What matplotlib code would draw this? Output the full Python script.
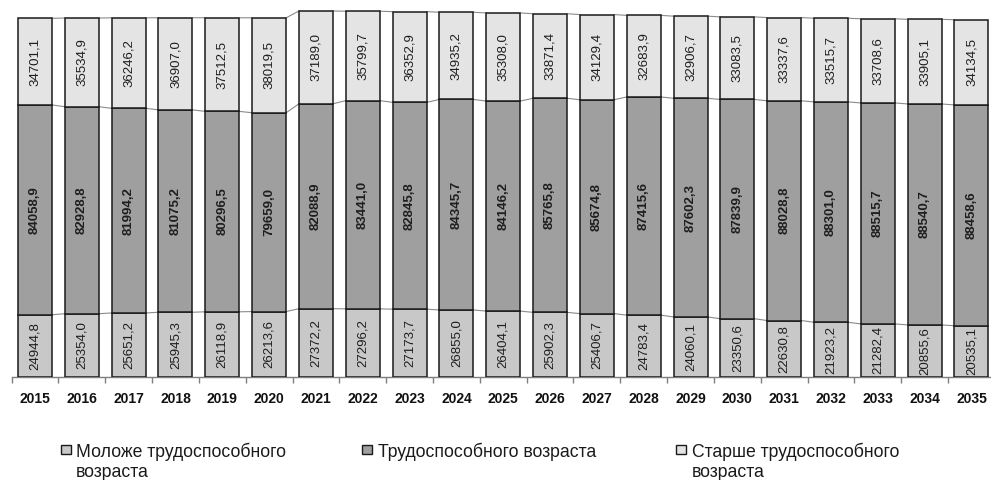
import numpy as np
import matplotlib
matplotlib.use("Agg")
import matplotlib.pyplot as plt
from matplotlib.patches import Rectangle

plt.rcParams['font.family'] = ['Liberation Sans', 'DejaVu Sans']

years = [str(y) for y in range(2015, 2036)]

younger = [24944.8, 25354.0, 25651.2, 25945.3, 26118.9, 26213.6, 27372.2,
           27296.2, 27173.7, 26855.0, 26404.1, 25902.3, 25406.7, 24783.4,
           24060.1, 23350.6, 22630.8, 21923.2, 21282.4, 20855.6, 20535.1]
working = [84058.9, 82928.8, 81994.2, 81075.2, 80296.5, 79659.0, 82088.9,
           83441.0, 82845.8, 84345.7, 84146.2, 85765.8, 85674.8, 87415.6,
           87602.3, 87839.9, 88028.8, 88301.0, 88515.7, 88540.7, 88458.6]
older = [34701.1, 35534.9, 36246.2, 36907.0, 37512.5, 38019.5, 37189.0,
         35799.7, 36352.9, 34935.2, 35308.0, 33871.4, 34129.4, 32683.9,
         32906.7, 33083.5, 33337.6, 33515.7, 33708.6, 33905.1, 34134.5]

series_names = ["Моложе трудоспособного\nвозраста",
                "Трудоспособного возраста",
                "Старше трудоспособного\nвозраста"]
colors = ["#c8c8c8", "#9f9f9f", "#e4e4e4"]

W, H = 991, 480
fig = plt.figure(figsize=(W / 100, H / 100), dpi=100)
fig.patch.set_facecolor("white")

ax_left, ax_right = 11.6, 994.9
ax_bottom, ax_top = 377, 2.6
ax = fig.add_axes([ax_left / W, (H - ax_bottom) / H,
                   (ax_right - ax_left) / W, (ax_bottom - ax_top) / H])

x = np.arange(len(years))
bw = 0.726
values = [np.array(younger), np.array(working), np.array(older)]
bottom = np.zeros(len(years))
for vals, col in zip(values, colors):
    ax.bar(x, vals, bw, bottom=bottom, color=col, edgecolor="#1a1a1a",
           linewidth=1.1, zorder=3)
    bottom = bottom + vals

# series lines joining the segment tops of neighbouring bars
level = np.zeros(len(years))
for vals in values:
    level = level + vals
    for i in range(len(years) - 1):
        ax.plot([x[i] + bw / 2, x[i + 1] - bw / 2], [level[i], level[i + 1]],
                color="#8a8a8a", linewidth=0.8, zorder=2)

# value labels inside every segment
bottom = np.zeros(len(years))
for k, vals in enumerate(values):
    for i, v in enumerate(vals):
        ax.text(x[i], bottom[i] + v / 2, f"{v:.1f}".replace(".", ","),
                rotation=90, ha="center", va="center", fontsize=9.5,
                fontweight="bold" if k == 1 else "normal",
                color="#1e1e1e", zorder=4)
    bottom = bottom + vals

ax.set_xlim(-0.5, len(years) - 0.5)
ax.set_ylim(0, 150000)
for s in ("left", "top", "right"):
    ax.spines[s].set_visible(False)
ax.spines["bottom"].set_color("#7f7f7f")
ax.spines["bottom"].set_linewidth(1.0)
ax.set_yticks([])
ax.set_xticks(x)
ax.set_xticklabels(years, fontsize=10, fontweight="bold", color="#111111")
ax.tick_params(axis="x", which="major", length=0, pad=11)
ax.set_xticks(np.arange(-0.5, len(years), 1.0), minor=True)
ax.tick_params(axis="x", which="minor", length=4, color="#7f7f7f", width=1.0)
ax.set_facecolor("white")

# legend drawn in figure pixel coordinates
legend_items = [(61, 76), (362, 378), (676, 692)]
for (mx, tx), name, col in zip(legend_items, series_names, colors):
    fig.add_artist(Rectangle((mx / W, (H - 454) / H), 10 / W, 9 / H,
                             transform=fig.transFigure, facecolor=col,
                             edgecolor="#1a1a1a", linewidth=1.0))
    for j, line in enumerate(name.split("\n")):
        fig.text(tx / W, (H - 457 - 20 * j) / H, line, fontsize=12.7,
                 color="#1a1a1a", ha="left", va="baseline")

fig.savefig("out.png", dpi=100, facecolor="white")
